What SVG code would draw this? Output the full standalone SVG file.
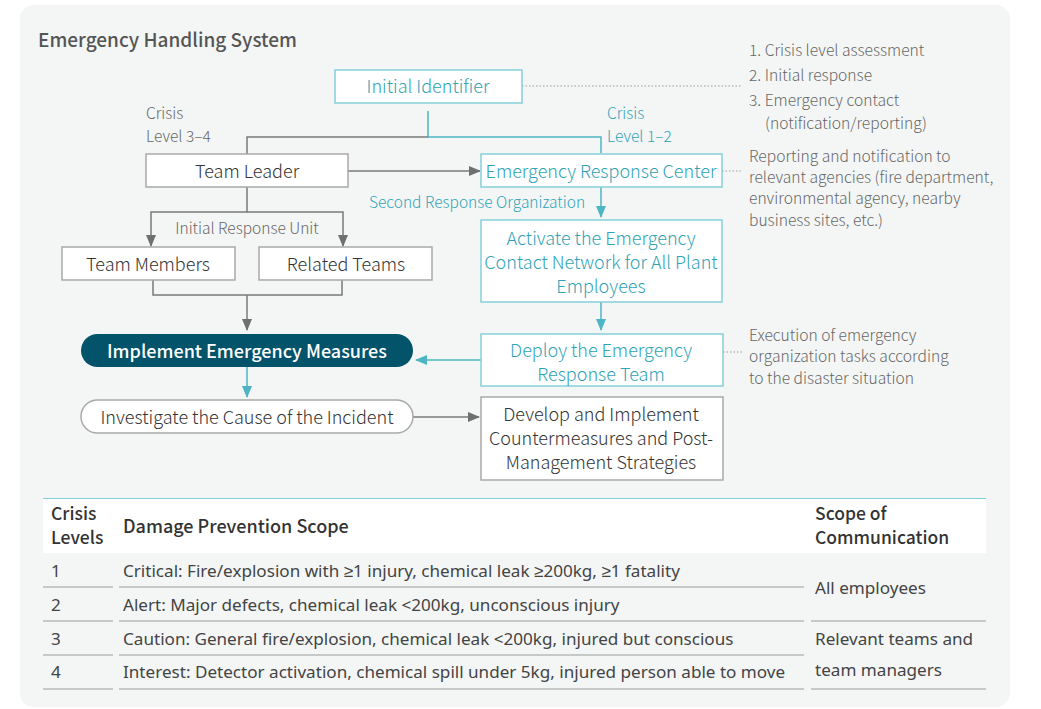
<svg xmlns="http://www.w3.org/2000/svg" width="1041" height="709" viewBox="0 0 1041 709">
<defs>
<style>
text{font-family:"Noto Sans CJK KR","Noto Sans",sans-serif;font-weight:300}
.t{fill:#2fa3b6;font-size:18px}
.d{fill:#333;font-size:18px}
.n{fill:#666;font-size:15.6px}
.g{fill:#666;font-size:15.5px}
.c{fill:#2fa3b6;font-size:15.5px}
.bt{fill:#fff;stroke:#84cfd9;stroke-width:1.5}
.bg{fill:#fff;stroke:#a9a9a9;stroke-width:1.5}
.lg{fill:none;stroke:#7a7a7a;stroke-width:1.5}
.lt{fill:none;stroke:#4db5c5;stroke-width:1.5}
.dot{fill:none;stroke:#999;stroke-width:1;stroke-dasharray:1.5 2}
.th{fill:#333;font-size:17.5px;font-weight:500}
.td{fill:#444;font-size:17.1px;font-family:"Noto Sans",sans-serif;font-weight:400}
.tl{fill:none;stroke:#999;stroke-width:1.2}
</style>
<marker id="ag" markerWidth="12" markerHeight="10" refX="11" refY="5" orient="auto" markerUnits="userSpaceOnUse"><path d="M0,0L12,5L0,10z" fill="#6f6f6f"/></marker>
<marker id="at" markerWidth="12" markerHeight="10" refX="11" refY="5" orient="auto" markerUnits="userSpaceOnUse"><path d="M0,0L12,5L0,10z" fill="#4db5c5"/></marker>
</defs>
<rect x="20" y="5" width="990" height="702" rx="14" fill="#f4f6f6"/>
<text x="38" y="47" style="font-size:19px;fill:#555;font-weight:500">Emergency Handling System</text>

<g id="connectors">
<line class="dot" x1="522" y1="86" x2="742" y2="86"/>
<line class="dot" x1="722" y1="171" x2="742" y2="171"/>
<line class="dot" x1="723" y1="352" x2="742" y2="352"/>
<path class="lt" d="M428,111V137H601V153"/>
<path class="lg" d="M428,137H247V154"/>
<path class="lg" d="M348,171H480" marker-end="url(#ag)"/>
<path class="lt" d="M601,187V217" marker-end="url(#at)"/>
<path class="lt" d="M601,302V330" marker-end="url(#at)"/>
<path class="lt" d="M481,360H416" marker-end="url(#at)"/>
<path class="lg" d="M247,187V212H151V246" marker-end="url(#ag)"/>
<path class="lg" d="M247,212H343V246" marker-end="url(#ag)"/>
<path class="lg" d="M153,280V295H342V280"/>
<path class="lg" d="M247,295V330" marker-end="url(#ag)"/>
<path class="lt" d="M247,367V397" marker-end="url(#at)"/>
<path class="lg" d="M413,417H479" marker-end="url(#ag)"/>
</g>

<g id="labels">
<text class="g" x="146" y="119">Crisis</text>
<text class="g" x="146" y="142">Level 3–4</text>
<text class="c" x="607" y="119">Crisis</text>
<text class="c" x="607" y="142">Level 1–2</text>
<text class="c" x="369" y="208">Second Response Organization</text>
<text class="g" x="247" y="234" text-anchor="middle">Initial Response Unit</text>
</g>

<g id="initial-identifier">
<rect class="bt" x="335" y="70" width="187" height="33"/>
<text class="t" x="428" y="93" text-anchor="middle">Initial Identifier</text>
</g>
<g id="team-leader">
<rect class="bg" x="146" y="154" width="202" height="33"/>
<text class="d" x="247" y="178" text-anchor="middle">Team Leader</text>
</g>
<g id="erc">
<rect class="bt" x="481" y="154" width="241" height="33"/>
<text class="t" x="601" y="178" text-anchor="middle">Emergency Response Center</text>
</g>
<g id="activate">
<rect class="bt" x="481" y="220" width="241" height="82"/>
<text class="t" x="601" y="245" text-anchor="middle">Activate the Emergency</text>
<text class="t" x="601" y="269" text-anchor="middle">Contact Network for All Plant</text>
<text class="t" x="601" y="293" text-anchor="middle">Employees</text>
</g>
<g id="deploy">
<rect class="bt" x="481" y="334" width="242" height="52"/>
<text class="t" x="601" y="357" text-anchor="middle">Deploy the Emergency</text>
<text class="t" x="601" y="381" text-anchor="middle">Response Team</text>
</g>
<g id="team-members">
<rect class="bg" x="62" y="247" width="173" height="33"/>
<text class="d" x="148" y="271" text-anchor="middle">Team Members</text>
</g>
<g id="related-teams">
<rect class="bg" x="259" y="247" width="173" height="33"/>
<text class="d" x="346" y="271" text-anchor="middle">Related Teams</text>
</g>
<g id="implement">
<rect x="81" y="334" width="332" height="33" rx="16.5" fill="#03536a"/>
<text x="247" y="358" text-anchor="middle" style="fill:#fff;font-size:18px;font-weight:500">Implement Emergency Measures</text>
</g>
<g id="investigate">
<rect class="bg" x="81" y="400" width="332" height="33" rx="16.5"/>
<text class="d" x="247" y="424" text-anchor="middle">Investigate the Cause of the Incident</text>
</g>
<g id="develop">
<rect class="bg" x="481" y="397" width="242" height="83"/>
<text class="d" x="601" y="421" text-anchor="middle">Develop and Implement</text>
<text class="d" x="601" y="445" text-anchor="middle">Countermeasures and Post-</text>
<text class="d" x="601" y="469" text-anchor="middle">Management Strategies</text>
</g>

<g id="notes">
<text class="n" x="749" y="56">1. Crisis level assessment</text>
<text class="n" x="749" y="81">2. Initial response</text>
<text class="n" x="749" y="106">3. Emergency contact</text>
<text class="n" x="765" y="129">(notification/reporting)</text>
<text class="n" x="749" y="162">Reporting and notification to</text>
<text class="n" x="749" y="183">relevant agencies (fire department,</text>
<text class="n" x="749" y="204">environmental agency, nearby</text>
<text class="n" x="749" y="226">business sites, etc.)</text>
<text class="n" x="749" y="341">Execution of emergency</text>
<text class="n" x="749" y="362">organization tasks according</text>
<text class="n" x="749" y="384">to the disaster situation</text>
</g>

<g id="table">
<rect x="43" y="499" width="943" height="54" fill="#fff"/>
<line x1="43" y1="498.5" x2="986" y2="498.5" stroke="#7fcfd9" stroke-width="1.2"/>
<text class="th" x="51" y="520">Crisis</text>
<text class="th" x="51" y="544">Levels</text>
<text class="th" x="123" y="533" style="font-size:18px">Damage Prevention Scope</text>
<text class="th" x="815" y="520">Scope of</text>
<text class="th" x="815" y="544">Communication</text>
<text class="td" x="51" y="577">1</text>
<text class="td" x="123" y="577">Critical: Fire/explosion with ≥1 injury, chemical leak ≥200kg, ≥1 fatality</text>
<text class="td" x="51" y="611">2</text>
<text class="td" x="123" y="611">Alert: Major defects, chemical leak &lt;200kg, unconscious injury</text>
<text class="td" x="51" y="645">3</text>
<text class="td" x="123" y="645">Caution: General fire/explosion, chemical leak &lt;200kg, injured but conscious</text>
<text class="td" x="51" y="678">4</text>
<text class="td" x="123" y="678">Interest: Detector activation, chemical spill under 5kg, injured person able to move</text>
<text class="td" x="815" y="594">All employees</text>
<text class="td" x="815" y="645">Relevant teams and</text>
<text class="td" x="815" y="676">team managers</text>
<path class="tl" d="M43,587H113M119,587H804M43,621H113M119,621H804M811,621H986M43,655H113M119,655H804M43,689H113M119,689H804M811,689H986"/>
</g>
</svg>
